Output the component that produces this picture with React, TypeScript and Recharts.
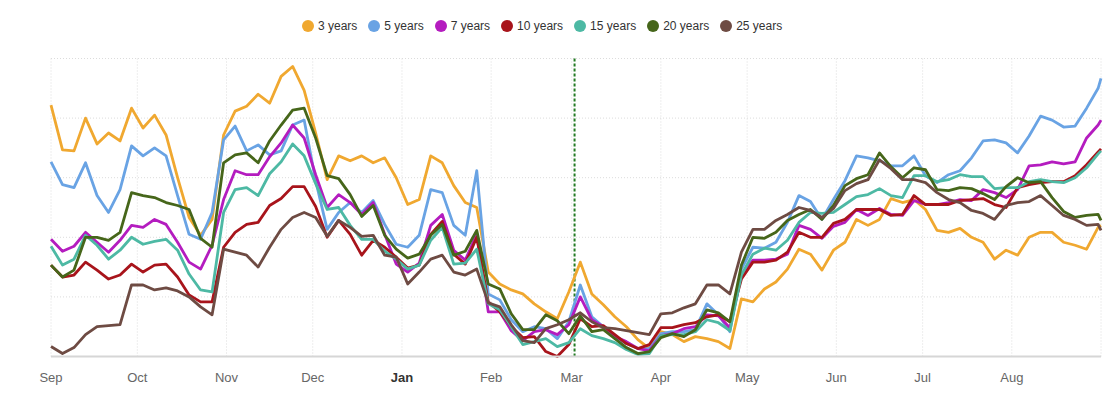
import React from "react"
import { CartesianGrid, Legend, Line, LineChart, ReferenceLine, XAxis, YAxis } from "recharts"

// day offsets from 1 Sep (sampled every 4 days)
const days = [
    0, 4, 8, 12, 16, 20, 24, 28, 32, 36, 40, 44, 48, 52, 56, 60, 64, 68, 72, 76, 80, 84, 88, 92,
    96, 100, 104, 108, 112, 116, 120, 124, 128, 132, 136, 140, 144, 148, 152, 156, 160, 164, 168,
    172, 176, 180, 184, 188, 192, 196, 200, 204, 208, 212, 216, 220, 224, 228, 232, 236, 240, 244,
    248, 252, 256, 260, 264, 268, 272, 276, 280, 284, 288, 292, 296, 300, 304, 308, 312, 316, 320,
    324, 328, 332, 336, 340, 344, 348, 352, 356, 360, 364, 365,
]

const monthTicks = [0, 30, 61, 91, 122, 153, 181, 212, 242, 273, 303, 334]
const monthLabels = ["Sep", "Oct", "Nov", "Dec", "Jan", "Feb", "Mar", "Apr", "May", "Jun", "Jul", "Aug"]
const markerDay = 182

const years3 = [
    253, 208, 207, 240, 214, 225, 217, 250, 230, 243, 223, 180, 140,
    122, 138, 223, 247, 252, 264, 255, 282, 292, 268, 225, 178, 202,
    197, 202, 195, 200, 180, 153, 158, 202, 195, 172, 155, 150, 85,
    73, 67, 63, 53, 45, 38, 65, 95, 63, 52, 40, 30, 17, 8,
    25, 22, 15, 20, 18, 15, 8, 58, 55, 68, 75, 88, 108,
    103, 87, 107, 115, 138, 132, 138, 159, 155, 158, 148, 127, 125,
    129, 120, 115, 98, 107, 102, 120, 125, 125, 115, 112, 108, 130, 132,
]
const years5 = [
    196, 173, 170, 195, 162, 145, 168, 212, 202, 210, 202, 162, 123,
    118, 145, 218, 232, 207, 213, 203, 207, 233, 238, 177, 128, 145,
    155, 145, 157, 133, 113, 110, 122, 168, 165, 132, 122, 187, 63,
    57, 37, 25, 30, 28, 18, 35, 72, 40, 30, 20, 13, 8, 8,
    23, 25, 25, 27, 53, 42, 25, 88, 110, 109, 115, 135, 162,
    156, 138, 158, 177, 202, 200, 197, 192, 192, 202, 182, 175, 183,
    187, 200, 217, 218, 215, 205, 222, 242, 238, 231, 232, 250, 270, 280,
]
const years7 = [
    118, 106, 111, 125, 115, 105, 117, 132, 130, 138, 133, 115, 95,
    88, 112, 158, 187, 183, 183, 201, 215, 233, 220, 183, 150, 163,
    155, 143, 155, 123, 93, 85, 94, 132, 143, 107, 97, 123, 45,
    45, 26, 16, 25, 27, 22, 32, 60, 37, 30, 20, 15, 8, 6,
    21, 23, 28, 30, 42, 41, 29, 82, 97, 97, 98, 103, 132,
    128, 119, 131, 135, 148, 142, 149, 143, 142, 157, 153, 153, 155,
    158, 157, 168, 165, 160, 168, 192, 193, 196, 194, 196, 220, 233, 238,
]
const years10 = [
    92, 80, 82, 95, 87, 78, 82, 93, 85, 92, 93, 80, 62,
    55, 55, 110, 125, 133, 135, 152, 159, 171, 171, 151, 120, 137,
    123, 102, 117, 110, 100, 89, 92, 123, 136, 103, 93, 120, 55,
    45, 30, 19, 20, 5, 0, 12, 38, 30, 31, 22, 13, 8, 12,
    29, 29, 32, 34, 40, 42, 35, 78, 95, 95, 97, 105, 125,
    120, 120, 134, 138, 148, 148, 148, 142, 143, 162, 153, 153, 153,
    157, 158, 159, 153, 150, 170, 173, 175, 176, 176, 182, 193, 206, 209,
]
const years15 = [
    111, 92, 98, 122, 112, 98, 107, 120, 113, 116, 118, 107, 83,
    67, 65, 145, 168, 170, 162, 184, 196, 214, 202, 174, 148, 150,
    132, 118, 118, 106, 98, 88, 92, 117, 130, 93, 94, 108, 53,
    47, 30, 12, 15, 18, 10, 14, 28, 21, 18, 14, 7, 2, 3,
    21, 22, 22, 25, 37, 34, 26, 82, 103, 109, 107, 117, 135,
    145, 144, 145, 153, 161, 163, 169, 162, 160, 182, 182, 176, 178,
    183, 181, 181, 169, 170, 170, 176, 178, 176, 175, 180, 190, 204, 207,
]
const years20 = [
    92, 80, 87, 120, 120, 117, 125, 165, 162, 160, 155, 152, 148,
    119, 110, 195, 203, 205, 195, 217, 233, 248, 250, 220, 182, 179,
    163, 141, 152, 122, 108, 99, 103, 122, 133, 102, 106, 127, 73,
    68, 43, 27, 27, 42, 36, 23, 41, 25, 27, 18, 9, 3, 5,
    19, 23, 20, 27, 47, 44, 35, 92, 120, 119, 125, 137, 143,
    148, 138, 152, 172, 179, 183, 205, 191, 180, 190, 188, 168, 167,
    170, 169, 164, 158, 171, 180, 175, 176, 160, 146, 140, 142, 143, 137,
]
const years25 = [
    10, 3, 9, 22, 30, 31, 32, 72, 72, 67, 69, 66, 60,
    50, 42, 108, 105, 102, 90, 110, 128, 140, 145, 140, 121, 137,
    130, 121, 122, 102, 100, 73, 85, 98, 102, 85, 82, 88, 54,
    50, 32, 16, 14, 28, 32, 37, 44, 35, 29, 28, 26, 24, 22,
    43, 44, 49, 53, 72, 72, 63, 105, 128, 128, 137, 143, 150,
    147, 140, 149, 167, 174, 178, 198, 189, 178, 178, 175, 165, 158,
    155, 147, 144, 138, 152, 155, 156, 162, 152, 142, 138, 132, 133, 127,
]

const series = [
    { key: "y3", label: "3 years", color: "#F0A830", values: years3 },
    { key: "y5", label: "5 years", color: "#69A3E4", values: years5 },
    { key: "y7", label: "7 years", color: "#B41CBF", values: years7 },
    { key: "y10", label: "10 years", color: "#A8141B", values: years10 },
    { key: "y15", label: "15 years", color: "#4DB9A4", values: years15 },
    { key: "y20", label: "20 years", color: "#46661A", values: years20 },
    { key: "y25", label: "25 years", color: "#6E4B43", values: years25 },
]

const data = days.map((day, i) => {
    const row: { [key: string]: number } = { day }
    series.forEach((s) => {
        row[s.key] = s.values[i]
    })
    return row
})

const FONT = "'Liberation Sans', Arial, Helvetica, sans-serif"

const MonthTick = (props: any) => {
    const { x, y, payload } = props
    const idx = monthTicks.indexOf(payload.value)
    const isJan = monthLabels[idx] === "Jan"
    return (
        <text
            x={x}
            y={y}
            dy="0.71em"
            textAnchor="middle"
            fontSize={13}
            fontFamily={FONT}
            fontWeight={isJan ? 700 : 400}
            fill={isJan ? "#333" : "#666"}
        >
            {monthLabels[idx]}
        </text>
    )
}

const LegendContent = () => (
    <div style={{ height: 30, display: "flex", alignItems: "flex-start", fontFamily: FONT, fontSize: 12, color: "#333" }}>
        {series.map((s) => (
            <div key={s.key} style={{ display: "flex", alignItems: "center", height: 16, marginRight: 11 }}>
                <span
                    style={{
                        display: "inline-block",
                        width: 12,
                        height: 12,
                        borderRadius: "50%",
                        background: s.color,
                        marginRight: 4,
                    }}
                />
                <span>{s.label}</span>
            </div>
        ))}
    </div>
)

export default function App() {
    return (
        <LineChart
            width={1100}
            height={379}
            data={data}
            margin={{ top: 20.5, right: 7, bottom: 0.5, left: 43 }}
        >
            <Legend
                verticalAlign="top"
                content={<LegendContent />}
                wrapperStyle={{ top: 10, left: 294, width: "auto" }}
            />
            <CartesianGrid stroke="#dcdcdc" strokeDasharray="1 2" />
            <XAxis
                dataKey="day"
                type="number"
                domain={[0, 365]}
                ticks={monthTicks}
                tick={<MonthTick />}
                tickLine={false}
                tickMargin={10}
                axisLine={{ stroke: "#d6d6d6", strokeWidth: 2 }}
                height={30}
            />
            <YAxis hide domain={[0, 300]} ticks={[0, 60, 120, 180, 240, 300]} />
            <ReferenceLine x={markerDay} stroke="#237a23" strokeWidth={2} strokeDasharray="3 2" />
            {series.map((s) => (
                <Line
                    key={s.key}
                    dataKey={s.key}
                    name={s.label}
                    type="linear"
                    stroke={s.color}
                    strokeWidth={2.8}
                    strokeLinejoin="round"
                    dot={false}
                    activeDot={false}
                    isAnimationActive={false}
                />
            ))}
        </LineChart>
    )
}
